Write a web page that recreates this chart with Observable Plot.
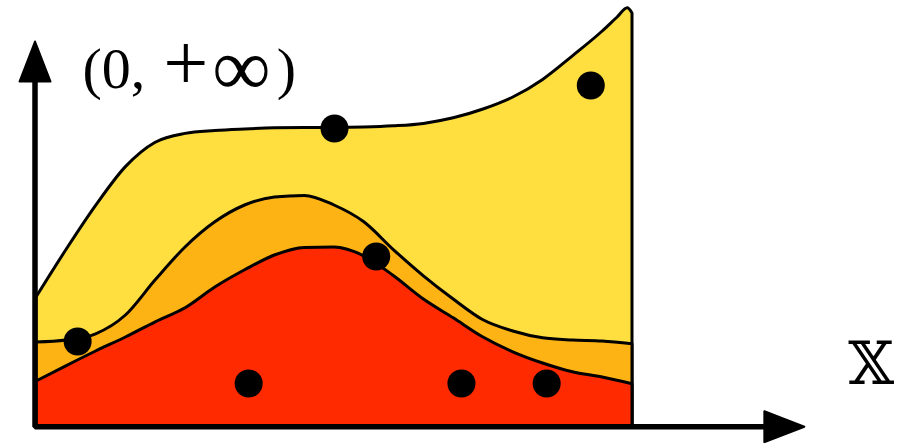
<!DOCTYPE html>
<html>
<head>
<meta charset="utf-8">
<script src="https://cdn.jsdelivr.net/npm/d3@7"></script>
<script src="https://cdn.jsdelivr.net/npm/@observablehq/plot@0.6"></script>
<style>
  html, body { margin: 0; padding: 0; background: #fff; }
  #chart svg { display: block; overflow: visible; }
</style>
</head>
<body>
<div id="chart"></div>
<script>
// Sample positions along the horizontal axis (shared by the two lower layers)
const gridX = [0, 0.5, 1, 1.5, 2, 2.5, 3, 3.5, 4, 4.5, 5, 5.5, 6, 6.5, 7, 7.5, 8, 8.5, 9, 9.5, 10];

// Upper (yellow) layer: plateau then a sharp rise at the right edge
const yellowX = [0, 0.5, 1, 1.5, 2, 2.5, 3, 3.5, 4, 4.5, 5, 5.5, 6, 6.5, 7, 7.5, 8, 8.5, 9, 9.5, 9.75, 9.92, 10];
const yellowY = [3.25, 4.43, 5.54, 6.51, 7.12, 7.34, 7.41, 7.45, 7.48, 7.49, 7.49, 7.5, 7.53, 7.59, 7.73, 7.95, 8.25, 8.69, 9.28, 9.9, 10.25, 10.48, 10.35];

// Middle (orange) layer
const orangeY = [2.125, 2.175, 2.33, 2.8, 3.68, 4.5, 5.13, 5.55, 5.75, 5.79, 5.55, 5.13, 4.43, 3.78, 3.2, 2.68, 2.4, 2.23, 2.175, 2.15, 2.08];

// Lower (red) layer
const redY = [1.15, 1.53, 1.9, 2.25, 2.63, 2.98, 3.5, 3.93, 4.3, 4.49, 4.5, 4.28, 3.78, 3.2, 2.73, 2.25, 1.88, 1.6, 1.38, 1.25, 1.08];

// Sample points
const pointX = [0.69, 3.56, 5.0, 5.70, 7.13, 8.56, 9.30];
const pointY = [2.15, 1.1, 7.475, 4.275, 1.1, 1.1, 8.55];

// Axis extents (arrow tips) and labels
const xAxisTip = 12.9;
const yAxisTip = 9.675;
const axisOrigin = {x: -0.025, y: 0.02};
const yLabel = "(0, +∞)";
const xLabel = "𝕏";
const yLabelPos = {x: 0.77, y: 8.5};
const xLabelPos = {x: 13.62, y: 1.1};

// Math-style typesetting of the interval label: operator and infinity set larger
const yLabelRuns = [
  {t: "(0,", size: 58, dx: 0, dy: 0},
  {t: "+", size: 80, dx: 18, dy: 2},
  {t: "∞", size: 82, dx: 4, dy: 5},
  {t: ")", size: 58, dx: 6, dy: -7}
];

const layers = [
  {name: "yellow", color: "#FFDF40", rows: yellowX.map((x, i) => ({x, y: yellowY[i]}))},
  {name: "orange", color: "#FDB314", rows: gridX.map((x, i) => ({x, y: orangeY[i]}))},
  {name: "red", color: "#FF2A00", rows: gridX.map((x, i) => ({x, y: redY[i]}))}
];
const points = pointX.map((x, i) => ({x, y: pointY[i]}));

// Filled arrowhead pointing up, tip at the symbol origin
const arrowHead = {
  draw(context) {
    const h = 41, w = 15.5;
    context.moveTo(0, 1);
    context.lineTo(w, h);
    context.lineTo(-w, h);
    context.closePath();
  }
};

const axisPath = [
  {x: axisOrigin.x, y: yAxisTip - 0.6},
  {x: axisOrigin.x, y: axisOrigin.y},
  {x: xAxisTip - 0.4, y: axisOrigin.y}
];

const chart = Plot.plot({
  width: 899,
  height: 443,
  marginLeft: 36,
  marginRight: 267,
  marginTop: 7,
  marginBottom: 16,
  x: {domain: [0, 10], axis: null},
  y: {domain: [0, 10.5], axis: null},
  style: {background: "#fff", overflow: "visible"},
  marks: [
    ...layers.map(l => Plot.areaY(l.rows, {
      x: "x", y: "y", fill: l.color, fillOpacity: 1,
      stroke: "black", strokeWidth: 3, strokeLinejoin: "round",
      curve: "monotone-x"
    })),
    Plot.line(axisPath, {x: "x", y: "y", stroke: "black", strokeWidth: 5.5, strokeLinejoin: "miter"}),
    Plot.dot([{x: axisOrigin.x, y: yAxisTip}], {
      x: "x", y: "y", symbol: arrowHead, fill: "black", stroke: "black", strokeWidth: 2, strokeLinejoin: "round"
    }),
    Plot.dot([{x: xAxisTip, y: axisOrigin.y}], {
      x: "x", y: "y", symbol: arrowHead, rotate: 90, fill: "black", stroke: "black", strokeWidth: 2, strokeLinejoin: "round"
    }),
    Plot.dot(points, {x: "x", y: "y", r: 14, fill: "black"}),
    Plot.text([yLabel], {
      x: yLabelPos.x, y: yLabelPos.y, text: d => d,
      fontSize: 58, fontFamily: "Liberation Serif", textAnchor: "start", lineAnchor: "bottom", fill: "black"
    }),
    Plot.text([xLabel], {
      x: xLabelPos.x, y: xLabelPos.y, text: d => d,
      fontSize: 59, fontFamily: "DejaVu Serif, DejaVu Sans", textAnchor: "start", lineAnchor: "bottom", fill: "black"
    })
  ]
});

// Replace the interval label's plain text with sized runs
d3.select(chart).selectAll("text")
  .filter(function () { return this.textContent === yLabel; })
  .each(function () {
    const text = d3.select(this);
    text.text(null);
    for (const run of yLabelRuns) {
      text.append("tspan")
        .attr("font-size", run.size)
        .attr("dx", run.dx)
        .attr("dy", run.dy)
        .text(run.t);
    }
  });

document.getElementById("chart").appendChild(chart);
</script>
</body>
</html>
